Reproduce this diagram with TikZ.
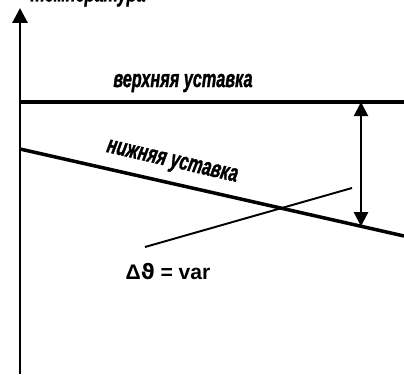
\documentclass[tikz,border=0pt]{standalone}
\usepackage{fontspec}
\setmainfont{Liberation Sans}
\newfontfamily\narrowfont[FakeStretch=0.66, FakeBold=1.2]{Liberation Sans}
\newfontfamily\greekfont{DejaVu Sans}
\usetikzlibrary{arrows.meta}
\tikzset{
  axis line/.style={line width=1.7pt, -{Triangle[width=8.5pt,length=8.5pt]}},
  setpoint line/.style={line width=1.8pt},
  band arrow/.style={line width=1.1pt, {Triangle[width=8pt,length=8pt]}-{Triangle[width=8pt,length=8pt]}},
  delta line/.style={line width=1.1pt},
  setpoint label/.style={font=\narrowfont\bfseries\itshape\fontsize{14}{14}\selectfont, inner sep=0pt},
}
\newcommand{\thetaSym}{{\greekfont\bfseries ϑ}}

\begin{document}
\begin{tikzpicture}[x=0.02cm, y=0.02cm]
  \useasboundingbox (0,0) rectangle (404,374);
  % axis
  \coordinate (O) at (20,0);
  \coordinate (T) at (20,366);
  \draw[axis line] (O) -- (T);
  \node[setpoint label, anchor=base] (axis label) at (88,372.5) {температура};
  % setpoints
  \coordinate (U1) at (20,272);
  \coordinate (U2) at (404,272);
  \coordinate (L1) at (20,225);
  \coordinate (L2) at (404,138);
  \draw[setpoint line] (U1) -- (U2);
  \draw[setpoint line, line width=2pt] (L1) -- (L2);
  \node[setpoint label] (upper) at (183,291) {верхняя уставка};
  \node[setpoint label, rotate=-13] (lower) at (172,211) {нижняя уставка};
  % band between setpoints
  \coordinate (A1) at (361,272);
  \coordinate (A2) at (361,147.7);
  \draw[band arrow] (A1) -- (A2);
  % varying difference
  \coordinate (D1) at (145,127);
  \coordinate (D2) at (352,186);
  \draw[delta line] (D1) -- (D2);
  \node[font=\bfseries\fontsize{12}{12}\selectfont, inner sep=0pt] (dvar) at (168,102) {Δ\thetaSym{} = var};
\end{tikzpicture}
\end{document}
